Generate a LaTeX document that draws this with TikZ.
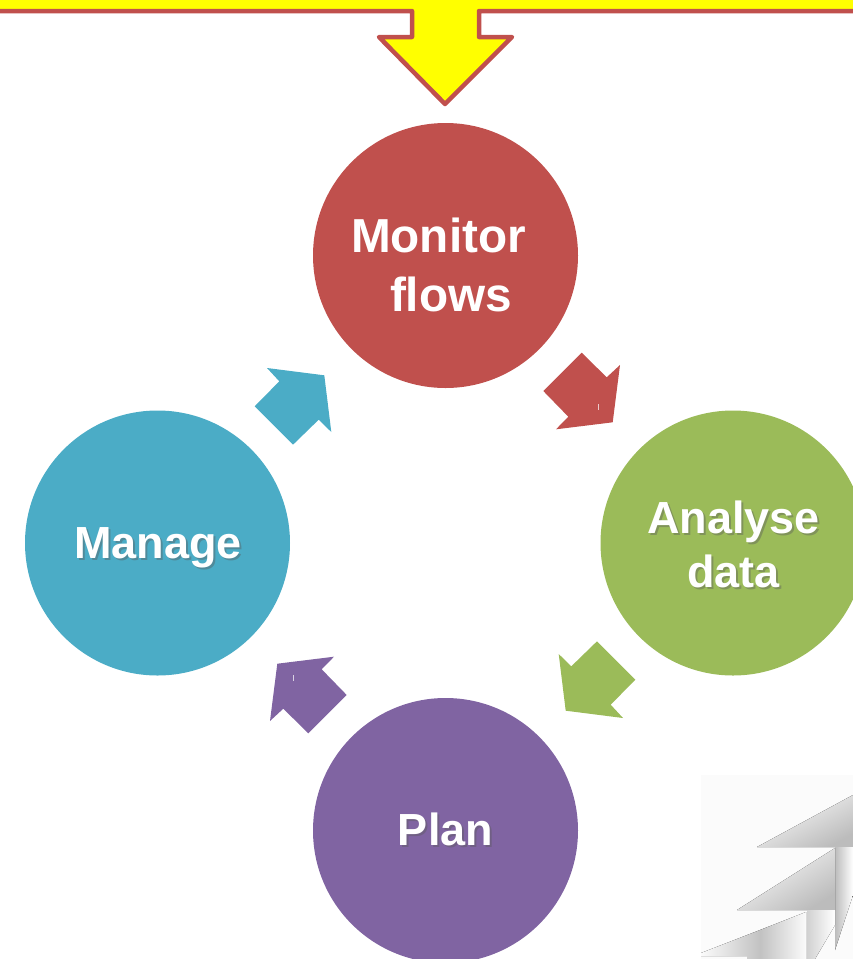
\documentclass[tikz,border=0pt]{standalone}
\usepackage{fontspec}
\setmainfont{Liberation Sans}
\definecolor{cred}{HTML}{C0504D}
\definecolor{cgreen}{HTML}{9BBB59}
\definecolor{cpurple}{HTML}{8064A2}
\definecolor{cblue}{HTML}{4BACC6}
\definecolor{cyellow}{RGB}{255,255,0}
\definecolor{paper}{RGB}{251,251,251}
\definecolor{fold}{RGB}{188,188,188}
\tikzset{
  bubble/.style={circle,minimum size=265pt,inner sep=0pt,outer sep=0pt,draw=none,fill=#1},
  lbl/.style={font=\bfseries\fontsize{#1}{#1}\selectfont,text=white,inner sep=0pt,anchor=base},
  shd/.style={font=\bfseries\fontsize{#1}{#1}\selectfont,text=black!65,opacity=.4,inner sep=0pt,anchor=base},
}
\begin{document}
\begin{tikzpicture}[x=1pt,y=-1pt]
\useasboundingbox (0,0) rectangle (853,959);
\clip (0,0) rectangle (853,959);
% banner with arrow
\draw[fill=cyellow,draw=cred,line width=4.5pt,line join=round]
  (-10,-10) -- (-10,11) -- (412,11) -- (412,37) -- (379,37) -- (445,104)
  -- (512,37) -- (479,37) -- (479,11) -- (863,11) -- (863,-10) -- cycle;
% page curl
\fill[paper] (701,775) rectangle (853,959);
\fill[shading=axis,top color=paper,bottom color=fold,shading angle=28] (757,847) -- (853,795) -- (853,847) -- (835,847) -- cycle;
\fill[shading=axis,left color=fold,right color=white] (835,847) -- (853,847) -- (853,895) -- (835,950) -- cycle;
\fill[shading=axis,top color=paper,bottom color=fold,shading angle=32] (737,910) -- (835,848) -- (835,910) -- cycle;
\fill[shading=axis,left color=black!18,right color=white] (807,910) -- (835,910) -- (835,925) -- (815,959) -- (807,959) -- cycle;
\fill[shading=axis,left color=paper,right color=black!24] (701,953) -- (760,930) -- (760,959) -- (747,959) -- (747,956) -- (701,956) -- cycle;
\fill[shading=axis,left color=black!24,right color=paper] (760,930) -- (806,912) -- (806,959) -- (760,959) -- cycle;
% arrows
\foreach \ang/\col in {0/cred,90/cgreen,180/cpurple,270/cblue}{
  \begin{scope}[shift={(445,543)},rotate=-\ang]
    \fill[\col] (136.7,-190.3) -- (161.7,-165.7) -- (175,-178) -- (167.7,-120.7)
      -- (111,-113.7) -- (123.3,-126.3) -- (98.3,-152) -- cycle;
  \end{scope}
}
\draw[white!70!cred,line width=1pt] (598,404) -- (598,410);
\draw[white!70!cpurple,line width=1pt] (293,675) -- (293,681);
% circles
\node[bubble=cred] (monitor) at (445.5,255.5) {};
\node[bubble=cgreen] (analyse) at (733,543) {};
\node[bubble=cpurple] (plan) at (445.5,830.5) {};
\node[bubble=cblue] (manage) at (157.5,543) {};
% labels
\node[lbl=47.7] (t1) at (438.5,252.5) {Monitor};
\node[lbl=47.7] (t2) at (451,311) {flows};
\node[shd=45] (s3) at (735.5,535) {Analyse};
\node[lbl=45] (t3) at (733.5,533) {Analyse};
\node[shd=45] (s4) at (735.5,589) {data};
\node[lbl=45] (t4) at (733.5,587) {data};
\node[shd=45] (s5) at (160,560) {Manage};
\node[lbl=45] (t5) at (158,558) {Manage};
\node[shd=45] (s6) at (447.5,847) {Plan};
\node[lbl=45] (t6) at (445.5,845) {Plan};
\end{tikzpicture}
\end{document}
